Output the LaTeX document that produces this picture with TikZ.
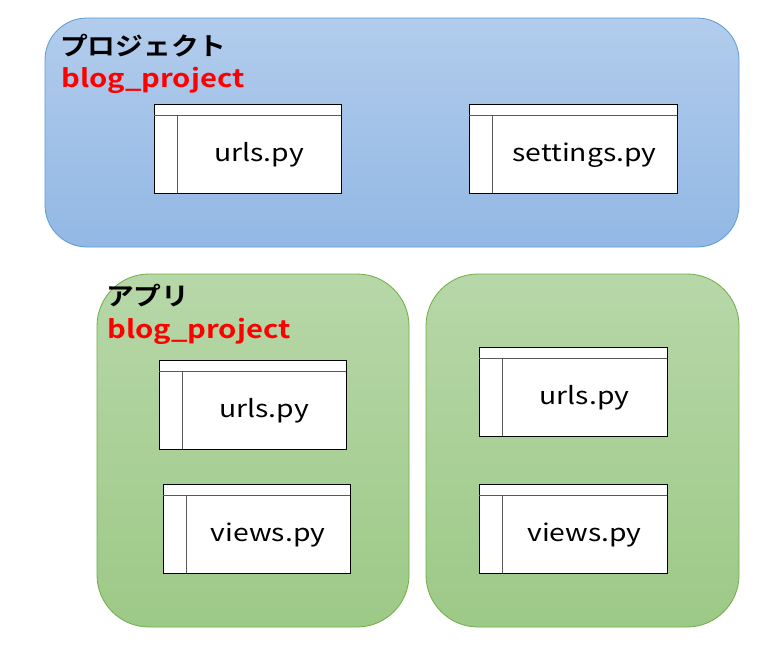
\documentclass[tikz,border=0pt]{standalone}
\usepackage{fontspec}
\setmainfont{Noto Sans CJK JP}[FakeStretch=1.18]
\newfontfamily\jpbold{Noto Sans CJK JP Bold}[FakeStretch=1.11]
\newfontfamily\latbold{Noto Sans CJK JP Bold}[FakeStretch=1.17]
\definecolor{bluetop}{RGB}{178,204,236}
\definecolor{bluebot}{RGB}{146,184,228}
\definecolor{blueedge}{RGB}{91,155,213}
\definecolor{greentop}{RGB}{183,215,168}
\definecolor{greenbot}{RGB}{157,201,135}
\definecolor{greenedge}{RGB}{112,173,71}
\definecolor{hdrred}{RGB}{255,0,0}
\begin{document}
\begin{tikzpicture}[x=1pt,y=-1pt,
  bluebox/.style={top color=bluetop,bottom color=bluebot,draw=blueedge,line width=0.8pt,rounded corners=42pt},
  greenbox/.style={top color=greentop,bottom color=greenbot,draw=greenedge,line width=0.8pt,rounded corners=52pt},
  filebox/.style={draw=black,fill=white,line width=0.9pt},
  fileline/.style={draw=black!65,line width=0.9pt},
  filetext/.style={font=\fontsize{24}{28}\selectfont,inner sep=0pt},
  titletext/.style={font=\jpbold\fontsize{25}{30}\selectfont,anchor=base west,inner sep=0pt,text=black},
  nametext/.style={font=\latbold\fontsize{25}{30}\selectfont,anchor=base west,inner sep=0pt,text=hdrred}]
\useasboundingbox (0,0) rectangle (777,664);
\fill[white] (0,0) rectangle (777,664);
% containers
\shade[bluebox] (45,18) rectangle (739,247);
\shade[greenbox] (97,274) rectangle (409,627);
\shade[greenbox] (426,274) rectangle (739,627);
% labels
\node[titletext] (projtitle) at (60,55) {プロジェクト};
\node[nametext] (projname) at (61,87) {blog\_project};
\node[titletext] (apptitle) at (106,305) {アプリ};
\node[nametext] (appname) at (107,338) {blog\_project};
% file boxes
\newcommand\filebox[6]{%
  \draw[filebox] (#2,#3) rectangle (#4,#5);
  \draw[fileline] (#2,#3+11) -- (#4,#3+11);
  \draw[fileline] (#2+23,#3+11) -- (#2+23,#5);
  \node[filetext] (#1) at ({(#2+23+#4)/2},{(#3+11+#5)/2+1}) {#6};
}
\filebox{purls}{154}{104}{341}{193}{urls.py}
\filebox{psettings}{469}{104}{677}{193}{settings.py}
\filebox{aurls}{159}{360}{346}{449}{urls.py}
\filebox{aviews}{163}{484}{350}{573}{views.py}
\filebox{burls}{479}{347}{667}{436}{urls.py}
\filebox{bviews}{479}{484}{667}{573}{views.py}
\end{tikzpicture}
\end{document}
